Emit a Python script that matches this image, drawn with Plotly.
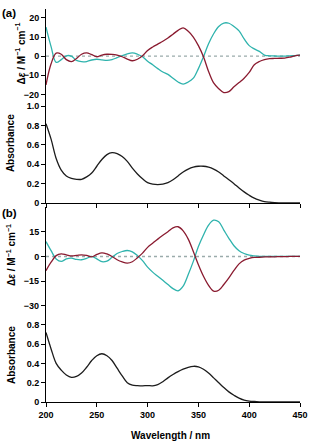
import plotly.graph_objects as go

wavelength = list(range(200, 451, 5))

cd_a_cyan = [15.2, 5.0, -3.2, -1.8, 0.2, 0.0, -2.2, -2.9, -2.8, -2.0, -1.6, -1.9, -2.2, -1.8, -0.8, 0.3,
             1.2, 1.7, 1.0, -0.3, -2.6, -4.5, -6.5, -8.3, -9.5, -11.5, -13.5, -14.6, -13.5, -11.5, -6.5,
             -0.3, 6.5, 11.7, 15.5, 17.3, 17.2, 15.5, 13.2, 9.0, 5.5, 3.8, 2.5, 0.6, 0.2, 0.1, 0.0, 0.0,
             0.2, 0.3, 0.6]
cd_a_red = [-15.0, -4.0, 1.6, 1.0, -1.8, -2.8, -1.2, 1.0, 1.7, 0.8, -0.3, 0.6, 1.0, 0.9, 0.5, -0.3,
            -1.5, -2.4, -1.6, 0.2, 3.0, 4.8, 6.3, 7.8, 9.5, 11.5, 13.5, 14.8, 13.0, 10.0, 5.5,
            -0.3, -8.0, -14.0, -17.0, -19.0, -18.5, -16.0, -13.8, -11.5, -8.5, -4.5, -2.8, -1.8, -1.3,
            -1.2, -1.1, -1.0, -0.5, 0.2, 0.5]
abs_a = [0.82, 0.66, 0.46, 0.34, 0.28, 0.255, 0.245, 0.245, 0.27, 0.31, 0.38, 0.45, 0.50, 0.52, 0.51,
         0.48, 0.43, 0.36, 0.30, 0.25, 0.21, 0.195, 0.19, 0.195, 0.21, 0.24, 0.28, 0.32, 0.35, 0.37,
         0.38, 0.38, 0.37, 0.35, 0.32, 0.28, 0.24, 0.20, 0.155, 0.115, 0.08, 0.05, 0.03, 0.015, 0.008,
         0.004, 0.002, 0.001, 0.0, 0.0, 0.0]
cd_b_cyan = [9.0, 3.5, -1.5, -3.0, -1.5, -1.0, -1.8, -2.0, -1.2, 0.0, -1.5, -3.2, -2.8, -0.5, 1.8, 3.0,
             3.6, 2.8, 0.5, -2.5, -6.5, -9.5, -12.0, -14.5, -17.0, -19.5, -20.8, -18.0, -11.0, -3.0,
             6.0, 13.0, 19.0, 22.0, 21.0, 16.0, 11.0, 6.5, 3.5, 1.8, 0.8, 0.3, 0.0, 0.0, 0.0, 0.0, 0.0,
             0.0, 0.0, 0.0, 0.0]
cd_b_red = [-8.6, -3.5, 0.5, 1.6, 1.0, 0.3, 0.6, 1.0, 0.6, -0.3, 1.2, 2.2, 1.5, 0.0, -2.0, -3.3, -4.0,
            -3.2, -0.8, 2.0, 5.5, 8.0, 10.5, 12.8, 15.0, 17.3, 18.0, 15.5, 10.5, 3.0, -5.0, -12.0,
            -17.5, -21.0, -20.5, -17.0, -13.0, -8.5, -4.5, -2.2, -1.2, -0.6, -0.5, -0.3, -0.2, -0.2,
            -0.1, -0.1, 0.0, 0.0, 0.0]
abs_b = [0.72, 0.55, 0.40, 0.33, 0.28, 0.255, 0.265, 0.30, 0.36, 0.43, 0.48, 0.50, 0.48, 0.43, 0.35,
         0.27, 0.20, 0.175, 0.17, 0.168, 0.17, 0.168, 0.18, 0.21, 0.25, 0.285, 0.315, 0.34, 0.36,
         0.37, 0.365, 0.34, 0.30, 0.25, 0.20, 0.15, 0.105, 0.07, 0.04, 0.02, 0.01, 0.005, 0.002,
         0.001, 0.0, 0.0, 0.0, 0.0, 0.0, 0.0, 0.0]

x_ticks = [200, 250, 300, 350, 400, 450]
cd_a_ticks = [-20, -10, 0, 10, 20]
abs_a_ticks = [0, 0.2, 0.4, 0.6, 0.8, 1.0]
abs_a_labels = ["0", "0.2", "0.4", "0.6", "0.8", "1.0"]
cd_b_ticks = [-30, -15, 0, 15]
abs_b_ticks = [0, 0.2, 0.4, 0.6, 0.8]
abs_b_labels = ["0", "0.2", "0.4", "0.6", "0.8"]

CYAN = "#2fb3ad"
RED = "#8a1b30"
BLACK = "#1c1c1c"
FONT = "Liberation Sans, Arial, sans-serif"

W, H = 309, 445
ML, MR, MT, MB = 46, 9, 0, 43
PH = H - MT - MB


def fy(py):
    return (PH - (py - MT)) / PH


def fx(px):
    return (px - ML) / (W - ML - MR)


fig = go.Figure()
lw = 1.3
fig.add_trace(go.Scatter(x=wavelength, y=cd_a_cyan, mode="lines", line=dict(color=CYAN, width=lw, shape="spline"), xaxis="x", yaxis="y"))
fig.add_trace(go.Scatter(x=wavelength, y=cd_a_red, mode="lines", line=dict(color=RED, width=lw, shape="spline"), xaxis="x", yaxis="y"))
fig.add_trace(go.Scatter(x=wavelength, y=abs_a, mode="lines", line=dict(color=BLACK, width=lw, shape="spline"), xaxis="x2", yaxis="y2"))
fig.add_trace(go.Scatter(x=wavelength, y=cd_b_cyan, mode="lines", line=dict(color=CYAN, width=lw, shape="spline"), xaxis="x3", yaxis="y3"))
fig.add_trace(go.Scatter(x=wavelength, y=cd_b_red, mode="lines", line=dict(color=RED, width=lw, shape="spline"), xaxis="x3", yaxis="y3"))
fig.add_trace(go.Scatter(x=wavelength, y=abs_b, mode="lines", line=dict(color=BLACK, width=lw, shape="spline"), xaxis="x4", yaxis="y4"))

tickfont = dict(family=FONT, size=9, color="black", weight="bold")

hidden_x = dict(range=[200, 450], showline=False, showticklabels=False, ticks="", showgrid=False, zeroline=False)
shown_x = dict(range=[200, 450], showline=True, linecolor="black", linewidth=1.1, ticks="outside", ticklen=4,
               tickwidth=1, tickcolor="black", tickvals=x_ticks, showgrid=False, zeroline=False, tickfont=tickfont)
ybase = dict(showline=True, linecolor="black", linewidth=1.1, ticks="outside", ticklen=4, tickwidth=1,
             tickcolor="black", showgrid=False, zeroline=False, tickfont=tickfont)

fig.update_layout(
    width=W, height=H,
    margin=dict(l=ML, r=MR, t=MT, b=MB),
    paper_bgcolor="white", plot_bgcolor="white",
    showlegend=False,
    xaxis=dict(**hidden_x, domain=[0, 1], anchor="y"),
    xaxis2=dict(**shown_x, domain=[0, 1], anchor="y2", showticklabels=False),
    xaxis3=dict(**hidden_x, domain=[0, 1], anchor="y3"),
    xaxis4=dict(**shown_x, domain=[0, 1], anchor="y4", showticklabels=True),
    yaxis=dict(**ybase, domain=[fy(102.3), fy(4.6)], range=[-25.66, 24.88], tickvals=cd_a_ticks, anchor="x"),
    yaxis2=dict(**ybase, domain=[fy(201), fy(102.3)], range=[0, 1.0102], tickvals=abs_a_ticks, ticktext=abs_a_labels, anchor="x2"),
    yaxis3=dict(**ybase, domain=[fy(313.3), fy(205)], range=[-35, 30], tickvals=cd_b_ticks, anchor="x3"),
    yaxis4=dict(**ybase, domain=[0, fy(313.3)], range=[0, 0.91], tickvals=abs_b_ticks, ticktext=abs_b_labels, anchor="x4"),
)

dash_line = dict(color="#9aabab", width=1.4, dash="3px,3px")
fig.add_shape(type="line", xref="x domain", x0=0, x1=1, yref="y", y0=0, y1=0, line=dash_line, layer="below")
fig.add_shape(type="line", xref="x3 domain", x0=0, x1=1, yref="y3", y0=0, y1=0, line=dash_line, layer="below")

title_font = dict(family=FONT, size=10, color="black", weight="bold")
label_font = dict(family=FONT, size=11.5, color="black", weight="bold")
cd_title = "Δ<i>ε</i> / M<sup>−1</sup> cm<sup>−1</sup>"

annots = [
    dict(text="(a)", x=fx(9), y=fy(9), font=label_font, textangle=0),
    dict(text="(b)", x=fx(9), y=fy(211), font=label_font, textangle=0),
    dict(text=cd_title, x=fx(20), y=fy(50), font=title_font, textangle=-90),
    dict(text="Absorbance", x=fx(10.5), y=fy(141), font=title_font, textangle=-90),
    dict(text=cd_title, x=fx(11.5), y=fy(254), font=title_font, textangle=-90),
    dict(text="Absorbance", x=fx(11.5), y=fy(355), font=title_font, textangle=-90),
    dict(text="Wavelength / nm", x=fx(170), y=fy(435.5), font=title_font, textangle=0),
]
for a in annots:
    fig.add_annotation(xref="paper", yref="paper", xanchor="center", yanchor="middle", showarrow=False, **a)

fig.write_html("out.html", config={"displayModeBar": False},
               post_script="document.body.style.margin='0';document.body.style.padding='0';")
